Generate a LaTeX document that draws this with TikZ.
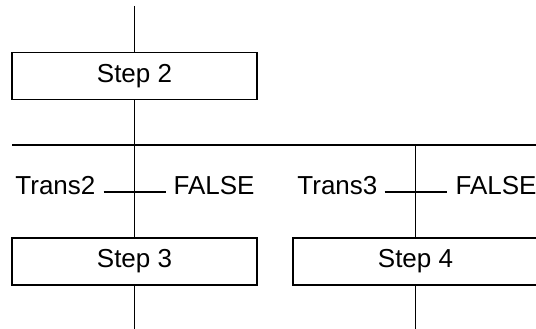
\documentclass[tikz,border=0pt]{standalone}
\usepackage{fontspec}
\setmainfont{Liberation Sans}
\begin{document}
\begin{tikzpicture}[x=1pt,y=-1pt,line width=1.2pt,
  stepbox/.style={draw,line width=1.8pt,minimum width=245pt,minimum height=47pt,inner sep=0pt,font=\fontsize{26}{30}\selectfont},
  translabel/.style={inner sep=0pt,font=\fontsize{26}{30}\selectfont}]
\useasboundingbox (0,0) rectangle (536,329);
\clip (0,0) rectangle (536,329);

% steps
\node[stepbox] (step2) at (134.5,76) {Step 2};
\node[stepbox] (step3) at (134.5,261.5) {Step 3};
\node[stepbox] (step4) at (415.5,261.5) {Step 4};

% divergence and transitions
\coordinate (in) at (134.5,6);
\coordinate (divl) at (12,145);
\coordinate (divr) at (536,145);
\coordinate (trans2) at (134.5,192);
\coordinate (trans3) at (415.5,192);
\coordinate (out3) at (134.5,329);
\coordinate (out4) at (415.5,329);

\node[translabel,anchor=base east] (t2name) at (96,194) {Trans2};
\node[translabel,anchor=base west] (t2val) at (173,194) {FALSE};
\node[translabel,anchor=base east] (t3name) at (378,194) {Trans3};
\node[translabel,anchor=base west] (t3val) at (455,194) {FALSE};

\draw (in) -- (step2.north);
\draw (step2.south) -- (step3.north);
\draw (divl) -- (divr);
\draw (step4.north |- divr) -- (step4.north);
\draw ([xshift=-31pt]trans2) -- ([xshift=31pt]trans2);
\draw ([xshift=-31pt]trans3) -- ([xshift=31pt]trans3);
\draw (step3.south) -- (out3);
\draw (step4.south) -- (out4);
\end{tikzpicture}
\end{document}
